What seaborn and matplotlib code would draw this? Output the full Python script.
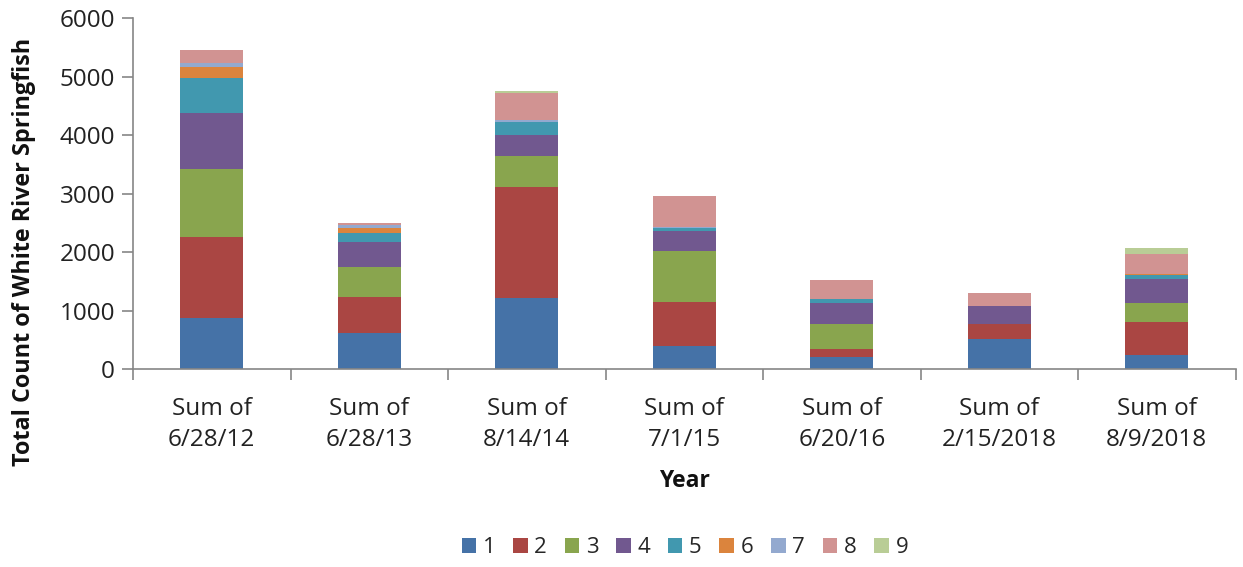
import numpy as np
import pandas as pd
import matplotlib
matplotlib.use("Agg")
import matplotlib.pyplot as plt
from matplotlib.patches import Patch
import seaborn as sns

dates = ["Sum of\n6/28/12", "Sum of\n6/28/13", "Sum of\n8/14/14", "Sum of\n7/1/15",
         "Sum of\n6/20/16", "Sum of\n2/15/2018", "Sum of\n8/9/2018"]
series_names = ["1", "2", "3", "4", "5", "6", "7", "8", "9"]
s1 = [870, 615, 1215, 395, 205, 515, 235]
s2 = [1386, 615, 1895, 750, 140, 255, 565]
s3 = [1164, 510, 530, 870, 430, 0, 325]
s4 = [956, 430, 360, 340, 360, 310, 410]
s5 = [598, 150, 220, 50, 70, 0, 70]
s6 = [190, 90, 0, 0, 0, 0, 20]
s7 = [70, 50, 40, 20, 0, 0, 0]
s8 = [220, 40, 460, 540, 320, 220, 350]
s9 = [0, 0, 40, 0, 0, 0, 90]
series_values = [s1, s2, s3, s4, s5, s6, s7, s8, s9]
colors = ["#4572A7", "#AA4643", "#89A54E", "#71588F", "#4198AF",
          "#DB843D", "#93A9CF", "#D19392", "#B9CD96"]

sns.set_style("white")
plt.rcParams["font.family"] = ["Open Sans", "DejaVu Sans"]

fig = plt.figure(figsize=(12.43, 5.67), dpi=100)
ax = fig.add_axes([0.107, 0.349, 0.887, 0.619])

cum = np.cumsum(np.array(series_values), axis=0)
for i in range(len(series_names) - 1, -1, -1):
    df = pd.DataFrame({"date": dates, "value": cum[i]})
    sns.barplot(data=df, x="date", y="value", color=colors[i], saturation=1,
                width=0.4, ax=ax, order=dates, linewidth=0, edgecolor="none")

ax.set_xlim(-0.5, len(dates) - 0.5)
ax.set_ylim(0, 6000)
ax.set_yticks(np.arange(0, 6001, 1000))
ax.set_xticks(np.arange(-0.5, len(dates), 1), minor=True)
ax.tick_params(axis="x", which="major", length=0, labelsize=17.5, pad=20,
               colors="#222222")
ax.tick_params(axis="x", which="minor", length=8, width=1.2, color="#868686",
               direction="out", bottom=True)
ax.tick_params(axis="y", length=8, width=1.2, color="#868686", direction="out",
               left=True, labelsize=17.5, labelcolor="#222222", pad=5)
for s in ["top", "right"]:
    ax.spines[s].set_visible(False)
for s in ["left", "bottom"]:
    ax.spines[s].set_color("#868686")
    ax.spines[s].set_linewidth(1.2)
for lab in ax.get_xticklabels():
    lab.set_linespacing(1.4)

ax.set_xlabel("Year", fontsize=16.5, fontweight="bold", labelpad=12, color="#111111")
ax.set_ylabel("Total Count of White River Springfish", fontsize=16.8,
              fontweight="bold", color="#111111")
ax.yaxis.set_label_coords(-0.088, 0.333)

handles = [Patch(facecolor=c, edgecolor="none") for c in colors]
fig.legend(handles, series_names, loc="center", bbox_to_anchor=(0.551, 0.034),
           ncol=9, frameon=False, fontsize=16, handlelength=0.65,
           handleheight=0.65, handletextpad=0.3, columnspacing=0.8)

fig.savefig("out.png", dpi=100)
